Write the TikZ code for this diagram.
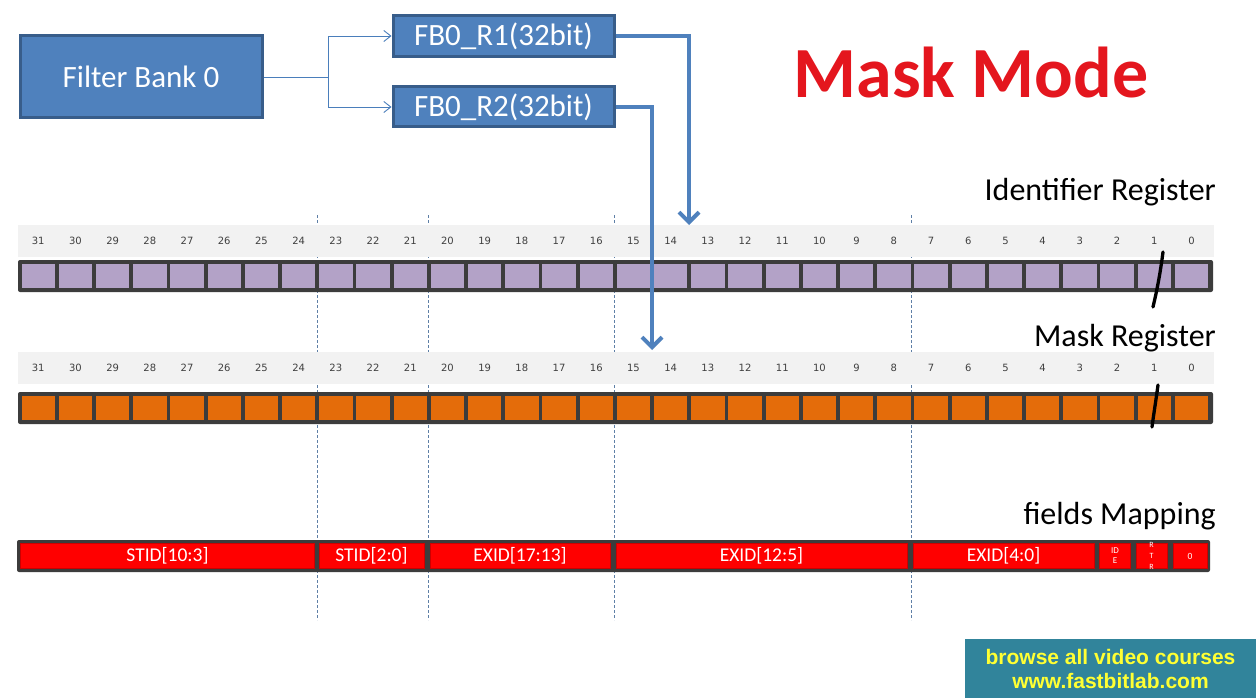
\documentclass[tikz,border=0pt]{standalone}
\usepackage{fontspec}
\setmainfont{Carlito}
\newfontfamily\numfont{DejaVu Sans}
\newfontfamily\banfont{Liberation Sans}
\usetikzlibrary{arrows.meta}
\definecolor{boxblue}{HTML}{4F81BD}
\definecolor{boxedge}{HTML}{385D8A}
\definecolor{linkblue}{HTML}{4A7EBB}
\definecolor{barDark}{HTML}{3C3C3C}
\definecolor{cellPurple}{HTML}{B3A2C7}
\definecolor{cellOrange}{HTML}{E46C0A}
\definecolor{fieldRed}{HTML}{FF0000}
\definecolor{bandGray}{HTML}{F2F2F2}
\definecolor{dashBlue}{HTML}{5E7FA6}
\definecolor{maskRed}{HTML}{E4161E}
\definecolor{banTeal}{HTML}{31849B}
\definecolor{banYellow}{HTML}{FFFF33}
\tikzset{
  bluebox/.style={draw=boxedge, fill=boxblue, line width=3pt, text=white,
    font=\fontsize{31}{36}\selectfont, inner sep=0pt},
  thinlink/.style={draw=linkblue, line width=0.9pt,
    -{Straight Barb[length=7pt,width=11pt,line width=0.9pt]}},
  thicklink/.style={draw=boxblue, line width=4pt,
    -{Straight Barb[length=10pt,width=20pt,line width=4pt]}},
  regbar/.style={fill=barDark, rounded corners=2pt, minimum width=1195pt,
    minimum height=32pt, inner sep=0pt},
  idcell/.style={fill=cellPurple, minimum width=33.5pt, minimum height=24pt, inner sep=0pt},
  mkcell/.style={fill=cellOrange, minimum width=33.5pt, minimum height=24pt, inner sep=0pt},
  numlab/.style={font=\numfont\fontsize{10}{11}\selectfont, text=black!75, inner sep=0pt},
  reglab/.style={anchor=east, font=\fontsize{32}{36}\selectfont, inner sep=0pt},
  fieldseg/.style={fill=fieldRed, draw=red!80!black, line width=0.4pt, text=white,
    inner sep=0pt, font=\fontsize{19.5}{22}\selectfont},
  dashline/.style={draw=dashBlue, line width=0.8pt, dash pattern=on 3pt off 2pt},
  slash/.style={draw=black, line width=3.3pt, line cap=round}
}
\begin{document}
\begin{tikzpicture}[x=1pt,y=-1pt]
\useasboundingbox (0,0) rectangle (1256,698);
\fill[white] (0,0) rectangle (1256,698);

% dashed guides
\foreach \gx/\gn in {317/a,428.5/b,614.5/c,911.5/d}{
  \coordinate (g\gn top) at (\gx,215);
  \coordinate (g\gn bot) at (\gx,620);
  \draw[dashline] (g\gn top) -- (g\gn bot);
}

% top boxes
\node[bluebox, minimum width=242pt, minimum height=82pt] (fb) at (141,77) {Filter Bank 0};
\node[bluebox, minimum width=221pt, minimum height=41pt] (r1) at (503.5,36) {FB0\_R1(32bit)};
\node[bluebox, minimum width=221pt, minimum height=40pt] (r2) at (503.5,107) {FB0\_R2(32bit)};
\coordinate (sp) at (328,77);
\draw[draw=linkblue, line width=0.9pt] (fb.east) -- (sp);
\draw[thinlink] (sp) |- (r1.west);
\draw[thinlink] (sp) |- (r2.west);

% title
\node[font=\bfseries\fontsize{72}{80}\selectfont, text=maskRed, inner sep=0pt] (title) at (971,73) {Mask Mode};

% labels
\node[reglab] (idlab) at (1216,192) {Identifier Register};
\node[reglab] (mklab) at (1216,338) {Mask Register};
\node[reglab] (fmlab) at (1216,516) {fields Mapping};

% number bands
\fill[bandGray] (18,225) rectangle (1214,257);
\fill[bandGray] (18,352) rectangle (1214,384);

% registers
\node[regbar] (idbar) at (615.5,276) {};
\node[regbar] (mkbar) at (615.5,408) {};
\foreach \i in {0,...,31}{
  \pgfmathsetmacro\cx{38.25+\i*37.2}
  \pgfmathtruncatemacro\bit{31-\i}
  \node[idcell] (id\i) at (\cx,276) {};
  \node[numlab] (idn\i) at (\cx,241) {\bit};
  \node[mkcell] (mk\i) at (\cx,408) {};
  \node[numlab] (mkn\i) at (\cx,368) {\bit};
}

% slashes on bit 1
\draw[slash] (1163,252) .. controls (1160,275) and (1157,290) .. (1153,307);
\draw[slash] (1158,385) .. controls (1156,400) and (1154,412) .. (1152,427);

% fields mapping
\node[fill=barDark, rounded corners=2pt, minimum width=1193pt, minimum height=32pt, inner sep=0pt] (fbar) at (613.5,556) {};
\node[fieldseg, minimum width=294pt, minimum height=25pt] (f1) at (167.5,556) {STID[10:3]};
\node[fieldseg, minimum width=105pt, minimum height=25pt] (f2) at (371.5,556) {STID[2:0]};
\node[fieldseg, minimum width=180pt, minimum height=25pt] (f3) at (520,556) {EXID[17:13]};
\node[fieldseg, minimum width=291pt, minimum height=25pt] (f4) at (761.5,556) {EXID[12:5]};
\node[fieldseg, minimum width=181pt, minimum height=25pt] (f5) at (1003.5,556) {EXID[4:0]};
\node[fieldseg, minimum width=31pt, minimum height=25pt, align=center,
  font=\fontsize{9}{10}\selectfont] (f6) at (1115,556) {ID\\E};
\node[fieldseg, minimum width=31pt, minimum height=25pt] (f7) at (1151.5,556) {};
\node[align=center, text=white, inner sep=0pt, font=\fontsize{8}{11}\selectfont] (f7t) at (1151.5,556) {R\\T\\R};
\node[fieldseg, minimum width=34pt, minimum height=25pt, font=\fontsize{9.5}{10}\selectfont] (f8) at (1190,556) {0};

% thick arrows
\coordinate (t1) at (689,225);
\coordinate (t2) at (652,350);
\draw[thicklink] (r1.east) -| (t1);
\draw[thicklink] (r2.east) -| (t2);

% banner
\node[fill=banTeal, minimum width=291pt, minimum height=59pt, inner sep=0pt,
  text=banYellow, align=center, font=\banfont\bfseries\fontsize{21}{24}\selectfont]
  (ban) at (1110.5,668.5) {browse all video courses\\www.fastbitlab.com};
\end{tikzpicture}
\end{document}
